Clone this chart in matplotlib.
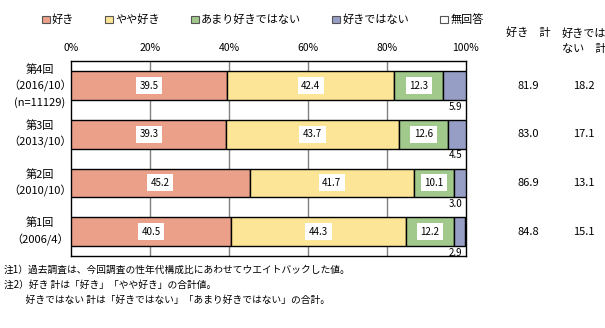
import matplotlib
matplotlib.use('Agg')
import matplotlib.pyplot as plt
import matplotlib.transforms as mtransforms
from matplotlib.patches import Patch
import numpy as np

plt.rcParams['font.family'] = ['Noto Sans CJK JP', 'DejaVu Sans']

# データ
categories = ['第4回\n（2016/10）\n(n=11129)', '第3回\n（2013/10）', '第2回\n（2010/10）', '第1回\n（2006/4）']
series_names = ['好き', 'やや好き', 'あまり好きではない', '好きではない', '無回答']
like = [39.5, 39.3, 45.2, 40.5]
somewhat_like = [42.4, 43.7, 41.7, 44.3]
not_much = [12.3, 12.6, 10.1, 12.2]
dislike = [5.9, 4.5, 3.0, 2.9]
no_answer = [0.0, 0.0, 0.0, 0.0]
like_total = ['81.9', '83.0', '86.9', '84.8']
dislike_total = ['18.2', '17.1', '13.1', '15.1']
xticks = [0, 20, 40, 60, 80, 100]

colors = ['#EBA08A', '#FCE597', '#A2C98C', '#979EC6', '#FFFFFF']

fig = plt.figure(figsize=(6.05, 3.28), dpi=100)
ax = fig.add_axes([71.3 / 605, 72 / 328, 394.4 / 605, 194.7 / 328])

y = np.arange(len(categories))
values = [like, somewhat_like, not_much, dislike, no_answer]
left = np.zeros(len(categories))
for vals, col in zip(values, colors):
    vals = np.array(vals)
    # 幅0の棒は枠線を描かない
    lw = [1 if v > 0 else 0 for v in vals]
    ax.barh(y, vals, left=left, height=0.59, color=col, edgecolor='black',
            linewidth=lw, zorder=3)
    left = left + vals

# 棒の中の数値
for i in range(len(categories)):
    start = 0
    for k, vals in enumerate(values[:3]):
        ax.text(start + vals[i] / 2, y[i], f'{vals[i]:.1f}', ha='center', va='center',
                fontsize=7, zorder=5,
                bbox=dict(facecolor='white', edgecolor='none', pad=2.5))
        start += vals[i]
    # 好きではない は棒の下に
    ax.text(99.2, y[i] + 0.33, f'{dislike[i]:.1f}', ha='right', va='top',
            fontsize=7, zorder=5)

ax.set_xlim(0, 100)
ax.set_ylim(len(categories) - 0.5, -0.5)
ax.set_xticks(xticks)
ax.set_xticklabels([f'{t}%' for t in xticks], fontsize=7.5)
ax.xaxis.tick_top()
ax.tick_params(axis='x', length=0, pad=6)
ax.set_yticks([])
for t in xticks[1:-1]:
    ax.axvline(t, color='#808080', linewidth=1, zorder=1)
for s in ax.spines.values():
    s.set_linewidth(1)
    s.set_color('black')

trans = mtransforms.blended_transform_factory(fig.transFigure, ax.transData)
for i, cat in enumerate(categories):
    ax.text(40 / 605, y[i], cat, transform=trans, ha='center', va='center',
            fontsize=8, linespacing=1.55)
    ax.text(528 / 605, y[i], like_total[i], transform=trans, ha='center', va='center',
            fontsize=8)
    ax.text(584 / 605, y[i], dislike_total[i], transform=trans, ha='center', va='center',
            fontsize=8)

fig.text(528 / 605, 1 - 33 / 328, '好き　計', ha='center', va='center', fontsize=8)
fig.text(584 / 605, 1 - 41 / 328, '好きでは\nない　計', ha='center', va='center',
         fontsize=8, linespacing=1.6)

# 凡例
handles = [Patch(facecolor=c, edgecolor='#555555', linewidth=0.8) for c in colors]
fig.legend(handles, series_names, loc='center left', bbox_to_anchor=(42 / 605, 1 - 20 / 328),
           ncol=5, frameon=False, fontsize=8, handlelength=0.7, handleheight=0.7,
           handletextpad=0.2, columnspacing=2.8, borderpad=0, borderaxespad=0)

notes = ['注1）過去調査は、今回調査の性年代構成比にあわせてウエイトバックした値。',
         '注2）好き 計は「好き」「やや好き」の合計値。',
         '　　 好きではない 計は「好きではない」「あまり好きではない」の合計。']
for j, line in enumerate(notes):
    fig.text(4 / 605, 1 - (270 + 15 * j) / 328, line, ha='left', va='center', fontsize=7)

fig.savefig('out.png', dpi=100)
